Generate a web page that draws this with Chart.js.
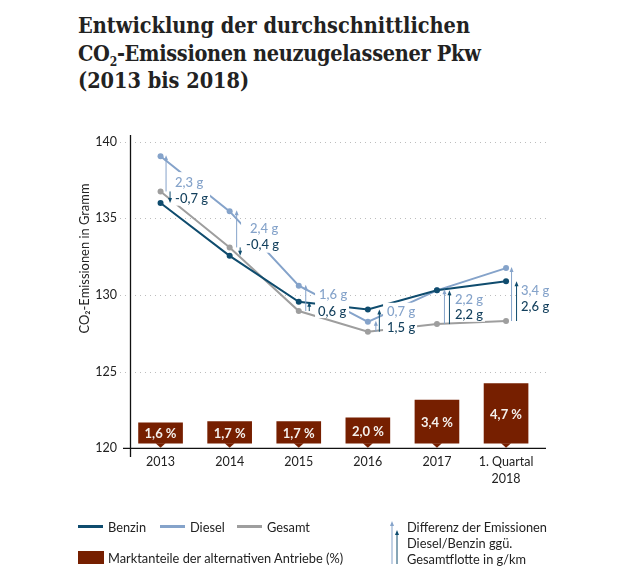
<!DOCTYPE html>
<html lang="de">
<head>
<meta charset="utf-8">
<title>CO2-Emissionen neuzugelassener Pkw</title>
<script src="https://cdn.jsdelivr.net/npm/chart.js@4"></script>
<style>
  body { margin: 0; background: #fff; }
  #wrap { position: relative; width: 630px; height: 582px; overflow: hidden; }
  canvas { position: absolute; left: 0; top: 0; }
  h1 { position: absolute; left: 78px; top: 12px; margin: 0; font: condensed bold 21.5px/27.5px "DejaVu Serif", serif; color: #222; white-space: nowrap; }
  h1 sub { font-size: 12px; line-height: 0; }
  h1 span { letter-spacing: -0.3px; }
  .lg { position: absolute; font: 12.8px/16px Lato, sans-serif; color: #222; white-space: nowrap; }
  .sw { position: absolute; height: 3px; width: 25px; }
</style>
</head>
<body>
<div id="wrap">
  <h1>Entwicklung der durchschnittlichen<br><span>CO<sub>2</sub>-Emissionen neuzugelassener Pkw</span><br>(2013 bis 2018)</h1>
  <canvas id="grafico" width="630" height="582"></canvas>
  <div class="sw" style="left:78px;top:525px;background:#0f4c6e"></div>
  <div class="lg" style="left:108px;top:519px">Benzin</div>
  <div class="sw" style="left:160px;top:525px;background:#85a3ca"></div>
  <div class="lg" style="left:190px;top:519px">Diesel</div>
  <div class="sw" style="left:237px;top:525px;background:#9e9e9e"></div>
  <div class="lg" style="left:267px;top:519px">Gesamt</div>
  <div class="sw" style="left:78px;top:551px;width:26px;height:13px;background:#761f00"></div>
  <div class="lg" style="left:108px;top:550px">Marktanteile der alternativen Antriebe (%)</div>
  <div class="lg" style="left:407px;top:519px">Differenz der Emissionen</div>
  <div class="lg" style="left:407px;top:535px">Diesel/Benzin ggü.</div>
  <div class="lg" style="left:407px;top:551px">Gesamtflotte in g/km</div>
</div>
<script>
const jahre = ['2013', '2014', '2015', '2016', '2017', ['1. Quartal', '2018']];
const benzin = [136.0, 132.55, 129.55, 129.05, 130.3, 130.9];
const diesel = [139.05, 135.45, 130.6, 128.25, 130.3, 131.75];
const gesamt = [136.75, 133.1, 128.95, 127.6, 128.1, 128.3];
const marktanteil = [1.6, 1.7, 1.7, 2.0, 3.4, 4.7];
const marktanteilText = ['1,6 %', '1,7 %', '1,7 %', '2,0 %', '3,4 %', '4,7 %'];
const diffDiesel = ['2,3 g', '2,4 g', '1,6 g', '0,7 g', '2,2 g', '3,4 g'];
const diffBenzin = ['-0,7 g', '-0,4 g', '0,6 g', '1,5 g', '2,2 g', '2,6 g'];

const BLAU = '#0f4c6e', HELL = '#85a3ca', GRAU = '#9e9e9e', ROT = '#761f00';
const SCHRIFT = 'Lato, sans-serif';

// Versatz der Pfeile und Beschriftungen, relativ zum Gesamt-Punkt des Jahres
const notizen = [
  { pfeilD: 5.5, pfeilB: 9.5, box: [10.5, -19.3, 39, 33.5], xD: 14.5, xB: 14.5, yD: -8.3, yB: 7.7 },
  { pfeilD: 7, pfeilB: 10.5, box: [11.4, -25.7, 37, 31], xD: 20.4, xB: 16.4, yD: -18.7, yB: -2.7 },
  { pfeilD: 7, pfeilB: 10.5, box: [16.3, -23, 34, 30], xD: 20.3, xB: 19.3, yD: -16, yB: 1 },
  { pfeilD: 8, pfeilB: 11.5, box: [15.2, -29, 34, 33], xD: 19.2, xB: 19.2, yD: -20, yB: -4 },
  { pfeilD: 7.5, pfeilB: 12.5, box: [16, -31.3, 32, 29], xD: 18, xB: 18, yD: -24.3, yB: -9.3 },
  { pfeilD: 5.5, pfeilB: 10.5, box: [13, -36, 29, 30], xD: 15, xB: 15, yD: -30, yB: -14 }
];

function pfeil(ctx, x, y1, y2, farbe) {
  const r = y2 < y1 ? 1 : -1;
  ctx.strokeStyle = farbe;
  ctx.fillStyle = farbe;
  ctx.lineWidth = 1;
  ctx.beginPath();
  ctx.moveTo(x, y1);
  ctx.lineTo(x, y2 + r * 3);
  ctx.stroke();
  ctx.beginPath();
  ctx.moveTo(x, y2);
  ctx.lineTo(x - 2, y2 + r * 5);
  ctx.lineTo(x + 2, y2 + r * 5);
  ctx.closePath();
  ctx.fill();
}

const hintergrund = {
  id: 'hintergrund',
  beforeDatasetsDraw(chart) {
    const { ctx, scales: { y } } = chart;
    ctx.save();
    ctx.strokeStyle = '#bdbdbd';
    ctx.lineWidth = 1;
    ctx.setLineDash([1, 4]);
    [125, 130, 135, 140].forEach(v => {
      const py = Math.round(y.getPixelForValue(v)) + 0.5;
      ctx.beginPath();
      ctx.moveTo(120, py);
      ctx.lineTo(546, py);
      ctx.stroke();
    });
    ctx.restore();
  }
};

const notizenPlugin = {
  id: 'notizen',
  afterDatasetsDraw(chart) {
    const { ctx, scales: { x, y } } = chart;
    ctx.save();

    // Achsen
    const y0 = y.getPixelForValue(120);
    ctx.strokeStyle = '#111';
    ctx.lineWidth = 1.3;
    ctx.beginPath();
    ctx.moveTo(123, y0); ctx.lineTo(546, y0);
    ctx.moveTo(130.5, 135); ctx.lineTo(130.5, 457);
    ctx.stroke();

    // Marktanteile: Spitze und Text
    const balken = chart.getDatasetMeta(3).data;
    balken.forEach((b, i) => {
      ctx.fillStyle = ROT;
      ctx.beginPath();
      ctx.moveTo(b.x - 5, b.base);
      ctx.lineTo(b.x + 5, b.base);
      ctx.lineTo(b.x, b.base + 4.5);
      ctx.closePath();
      ctx.fill();
      ctx.fillStyle = '#f4f0ec';
      ctx.font = 'bold 13px ' + SCHRIFT;
      ctx.textAlign = 'center';
      ctx.textBaseline = 'middle';
      ctx.fillText(marktanteilText[i], b.x, (b.y + b.base) / 2 + 1);
    });

    // Differenzen
    ctx.textAlign = 'left';
    ctx.textBaseline = 'middle';
    notizen.forEach((n, i) => {
      const cx = x.getPixelForValue(i);
      const gy = y.getPixelForValue(gesamt[i]);
      ctx.fillStyle = '#fff';
      ctx.fillRect(cx + n.box[0], gy + n.box[1], n.box[2], n.box[3]);
      pfeil(ctx, cx + n.pfeilD, gy, y.getPixelForValue(diesel[i]) - 1, HELL);
      pfeil(ctx, cx + n.pfeilB, gy, y.getPixelForValue(benzin[i]), BLAU);
      ctx.font = '500 13px ' + SCHRIFT;
      ctx.fillStyle = HELL;
      ctx.fillText(diffDiesel[i], cx + n.xD, gy + n.yD);
      ctx.fillStyle = '#123f5c';
      ctx.fillText(diffBenzin[i], cx + n.xB, gy + n.yB);
    });

    // Achsentitel
    ctx.translate(85, 258.5);
    ctx.rotate(-Math.PI / 2);
    ctx.textAlign = 'center';
    ctx.fillStyle = '#222';
    ctx.font = '12.9px ' + SCHRIFT;
    ctx.fillText('CO₂-Emissionen in Gramm', 0, 0);
    ctx.restore();

    // Legende: Pfeile
    pfeil(ctx, 392, 564, 521, HELL);
    pfeil(ctx, 397, 564, 530, BLAU);
  }
};

function linie(label, data, farbe) {
  return {
    type: 'line', label, data,
    borderColor: farbe, backgroundColor: farbe,
    borderWidth: 2, pointRadius: 3, pointBorderWidth: 0, pointHoverRadius: 3,
    tension: 0, order: 1, yAxisID: 'y'
  };
}

new Chart(document.getElementById('grafico').getContext('2d'), {
  data: {
    labels: jahre,
    datasets: [
      linie('Benzin', benzin, BLAU),
      linie('Diesel', diesel, HELL),
      linie('Gesamt', gesamt, GRAU),
      {
        type: 'bar', label: 'Marktanteile der alternativen Antriebe (%)', data: marktanteil,
        backgroundColor: ROT, barThickness: 44, order: 2, yAxisID: 'anteil'
      }
    ]
  },
  options: {
    responsive: false,
    animation: false,
    events: [],
    layout: { padding: { top: 141.6, right: 89.4 } },
    plugins: { legend: { display: false }, tooltip: { enabled: false } },
    scales: {
      x: {
        offset: true,
        grid: { display: false, drawTicks: false },
        border: { display: false },
        ticks: { color: '#222', font: { family: SCHRIFT, size: 12.5, lineHeight: 1.35 }, padding: 5, maxRotation: 0, autoSkip: false },
        afterFit(s) { s.height = 133.7; }
      },
      y: {
        min: 120, max: 140,
        grid: { display: false, drawTicks: false },
        border: { display: false },
        ticks: { stepSize: 5, color: '#222', font: { family: SCHRIFT, size: 12.5 }, padding: 9 },
        afterFit(s) { s.width = 126; }
      },
      anteil: { display: false, min: -0.4, max: 23.75 }
    }
  },
  plugins: [hintergrund, notizenPlugin]
});
</script>
</body>
</html>
